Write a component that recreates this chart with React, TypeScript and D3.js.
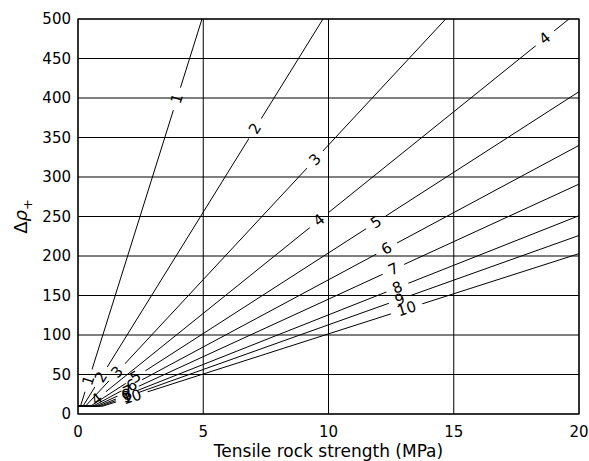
import React from "react";
import * as d3 from "d3";

// contour levels and where each contour runs
const levels = [1, 2, 3, 4, 5, 6, 7, 8, 9, 10];
const floorY = 10;
const startX = [0.1, 0.2, 0.3, 0.4, 0.5, 0.6, 0.7, 0.8, 0.9, 1.0];
const endX = [4.95, 9.78, 14.68, 19.6, 20, 20, 20, 20, 20, 20];
const endY = [500, 500, 500, 500, 408, 340, 291, 251, 226, 203];

// inline contour labels: level and x position along that contour
const labelLevel = [1, 2, 3, 4, 4, 5, 6, 7, 8, 9, 10, 1, 2, 3, 4, 5, 6, 7, 8, 9, 10];
const labelX = [3.95, 7.07, 9.46, 9.62, 18.64, 11.9, 12.32, 12.59, 12.75, 12.85, 13.12,
  0.42, 0.92, 1.56, 0.75, 2.3, 2.15, 2.0, 1.95, 1.95, 2.15];

const xTicks = [0, 5, 10, 15, 20];
const yTicks = [0, 50, 100, 150, 200, 250, 300, 350, 400, 450, 500];

const W = 589;
const H = 461;
const margin = { top: 19, right: 10, bottom: 47, left: 78 };
const FONT = "DejaVu Sans, sans-serif";

export default function App() {
  const x = d3.scaleLinear().domain([0, 20]).range([margin.left, W - margin.right]);
  const y = d3.scaleLinear().domain([0, 500]).range([H - margin.bottom, margin.top]);

  const line = d3.line<[number, number]>().x((d) => x(d[0])).y((d) => y(d[1]));

  const contours = levels.map((lv, i) => {
    const pts: [number, number][] = [
      [0, floorY],
      [startX[i], floorY],
      [endX[i], endY[i]],
    ];
    return { lv, i, pts };
  });

  const labels = labelLevel.map((lv, j) => {
    const i = levels.indexOf(lv);
    const x0 = startX[i];
    const slope = (endY[i] - floorY) / (endX[i] - x0);
    const lx = labelX[j];
    const ly = floorY + slope * (lx - x0);
    const px = x(lx);
    const py = y(ly);
    const dx = x(endX[i]) - x(x0);
    const dy = y(endY[i]) - y(floorY);
    const angle = (Math.atan2(dy, dx) * 180) / Math.PI;
    const text = String(lv);
    const w = text.length * 9.5 + 14;
    return { lv, px, py, angle, text, w, key: j };
  });

  const x0 = x(0), x1 = x(20), y0 = y(0), y1 = y(500);

  return (
    <svg width={W} height={H} style={{ position: "absolute", left: 0, top: 0, background: "#fff" }}
      fontFamily={FONT}>
      <defs>
        {contours.map((c) => (
          <mask id={"m" + c.lv} key={c.lv} maskUnits="userSpaceOnUse" x={0} y={0} width={W} height={H}>
            <rect x={0} y={0} width={W} height={H} fill="white" />
            {labels.filter((l) => l.lv === c.lv).map((l) => (
              <rect key={l.key} x={-l.w / 2} y={-8} width={l.w} height={16} fill="black"
                transform={`translate(${l.px},${l.py}) rotate(${l.angle})`} />
            ))}
          </mask>
        ))}
      </defs>

      {/* grid */}
      <g stroke="#000" strokeWidth={1}>
        {xTicks.map((t) => (
          <line key={"gx" + t} x1={x(t)} x2={x(t)} y1={y0} y2={y1} />
        ))}
        {yTicks.map((t) => (
          <line key={"gy" + t} x1={x0} x2={x1} y1={y(t)} y2={y(t)} />
        ))}
      </g>

      {/* contour lines */}
      <g fill="none" stroke="#000" strokeWidth={1}>
        {contours.map((c) => (
          <path key={c.lv} d={line(c.pts) || ""} mask={`url(#m${c.lv})`} />
        ))}
      </g>

      {/* contour labels */}
      <g fontSize={15} fill="#000" textAnchor="middle">
        {labels.map((l) => (
          <text key={l.key} transform={`translate(${l.px},${l.py}) rotate(${l.angle})`}
            dominantBaseline="central">{l.text}</text>
        ))}
      </g>

      {/* frame */}
      <rect x={x0} y={y1} width={x1 - x0} height={y0 - y1} fill="none" stroke="#000" strokeWidth={1.2} />

      {/* ticks */}
      <g fontSize={15} fill="#000">
        {xTicks.map((t) => (
          <text key={"tx" + t} x={x(t)} y={y0 + 23} textAnchor="middle">{t}</text>
        ))}
        {yTicks.map((t) => (
          <text key={"ty" + t} x={x0 - 7} y={y(t)} textAnchor="end" dominantBaseline="central">{t}</text>
        ))}
      </g>

      {/* axis labels */}
      <text x={(x0 + x1) / 2} y={H - 4} textAnchor="middle" fontSize={17} fill="#000">
        Tensile rock strength (MPa)
      </text>
      <text transform={`translate(27,${(y0 + y1) / 2}) rotate(-90)`} textAnchor="middle" fontSize={18} fill="#000">
        Δ<tspan fontStyle="italic">ρ</tspan>
        <tspan fontSize={13} dy={5}>+</tspan>
      </text>
    </svg>
  );
}
